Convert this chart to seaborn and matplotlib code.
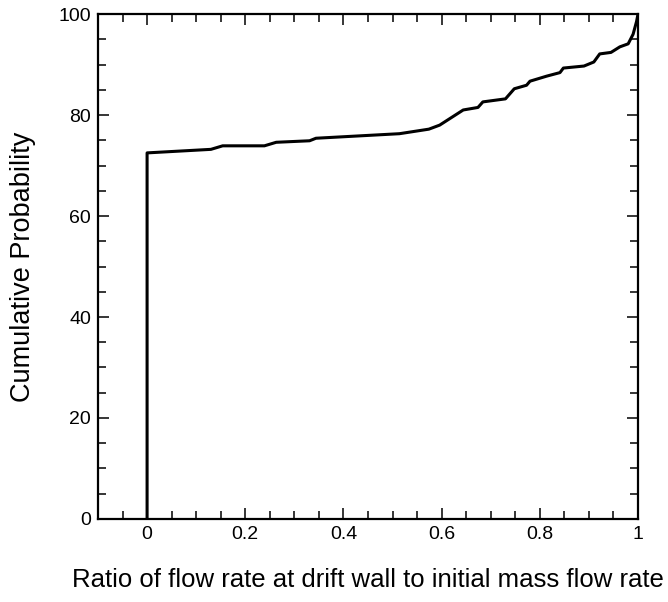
import numpy as np
import pandas as pd
import matplotlib
matplotlib.use("Agg")
import matplotlib.pyplot as plt
import seaborn as sns
from matplotlib.ticker import MultipleLocator

# ============================
# Data
# ============================
flow_ratio = [0.0, 0.0, 0.13, 0.154, 0.239, 0.263, 0.331, 0.344, 0.514,
              0.574, 0.596, 0.644, 0.674, 0.684, 0.730, 0.748, 0.773,
              0.780, 0.814, 0.841, 0.848, 0.890, 0.910, 0.922, 0.945,
              0.963, 0.980, 0.990, 0.997, 1.0]
cum_prob = [0.0, 72.5, 73.2, 73.9, 73.9, 74.6, 74.9, 75.4, 76.3,
            77.2, 78.0, 81.0, 81.5, 82.6, 83.2, 85.2, 85.9,
            86.7, 87.7, 88.4, 89.3, 89.7, 90.5, 92.1, 92.4,
            93.5, 94.1, 96.0, 98.5, 100.0]

x_ticks = [0, 0.2, 0.4, 0.6, 0.8, 1]
x_tick_labels = ["0", "0.2", "0.4", "0.6", "0.8", "1"]
y_ticks = [0, 20, 40, 60, 80, 100]

df = pd.DataFrame({"ratio": flow_ratio, "prob": cum_prob})

sns.set_style("ticks")
plt.rcParams["font.family"] = ["Liberation Sans", "DejaVu Sans"]

fig = plt.figure(figsize=(6.68, 6.02), dpi=100)
ax = fig.add_axes([0.1467, 0.1379, 0.8084, 0.8388])

# estimator=None so the vertical jump at x=0 is drawn as-is
sns.lineplot(data=df, x="ratio", y="prob", sort=False, estimator=None,
             color="black", linewidth=2.2, ax=ax)

ax.set_xlim(-0.1, 1.0)
ax.set_ylim(0, 100)
ax.set_xticks(x_ticks)
ax.set_xticklabels(x_tick_labels)
ax.set_yticks(y_ticks)
ax.xaxis.set_minor_locator(MultipleLocator(0.05))
ax.yaxis.set_minor_locator(MultipleLocator(5))

ax.tick_params(which="both", direction="in", top=True, right=True,
               labelsize=14, pad=5, colors="black", width=1.1)
ax.tick_params(which="major", length=8)
ax.tick_params(which="minor", length=5.5)

for side in ["left", "right", "top", "bottom"]:
    ax.spines[side].set_visible(True)
    ax.spines[side].set_linewidth(1.6)
    ax.spines[side].set_color("black")

ax.set_xlabel("Ratio of flow rate at drift wall to initial mass flow rate",
              fontsize=18.5, color="black")
ax.set_ylabel("Cumulative Probability", fontsize=19.5, color="black")
ax.xaxis.set_label_coords(0.5, -0.098)
ax.yaxis.set_label_coords(-0.139, 0.5)
ax.yaxis.label.set_verticalalignment("center")

fig.savefig("out.png", dpi=100)
plt.close()
